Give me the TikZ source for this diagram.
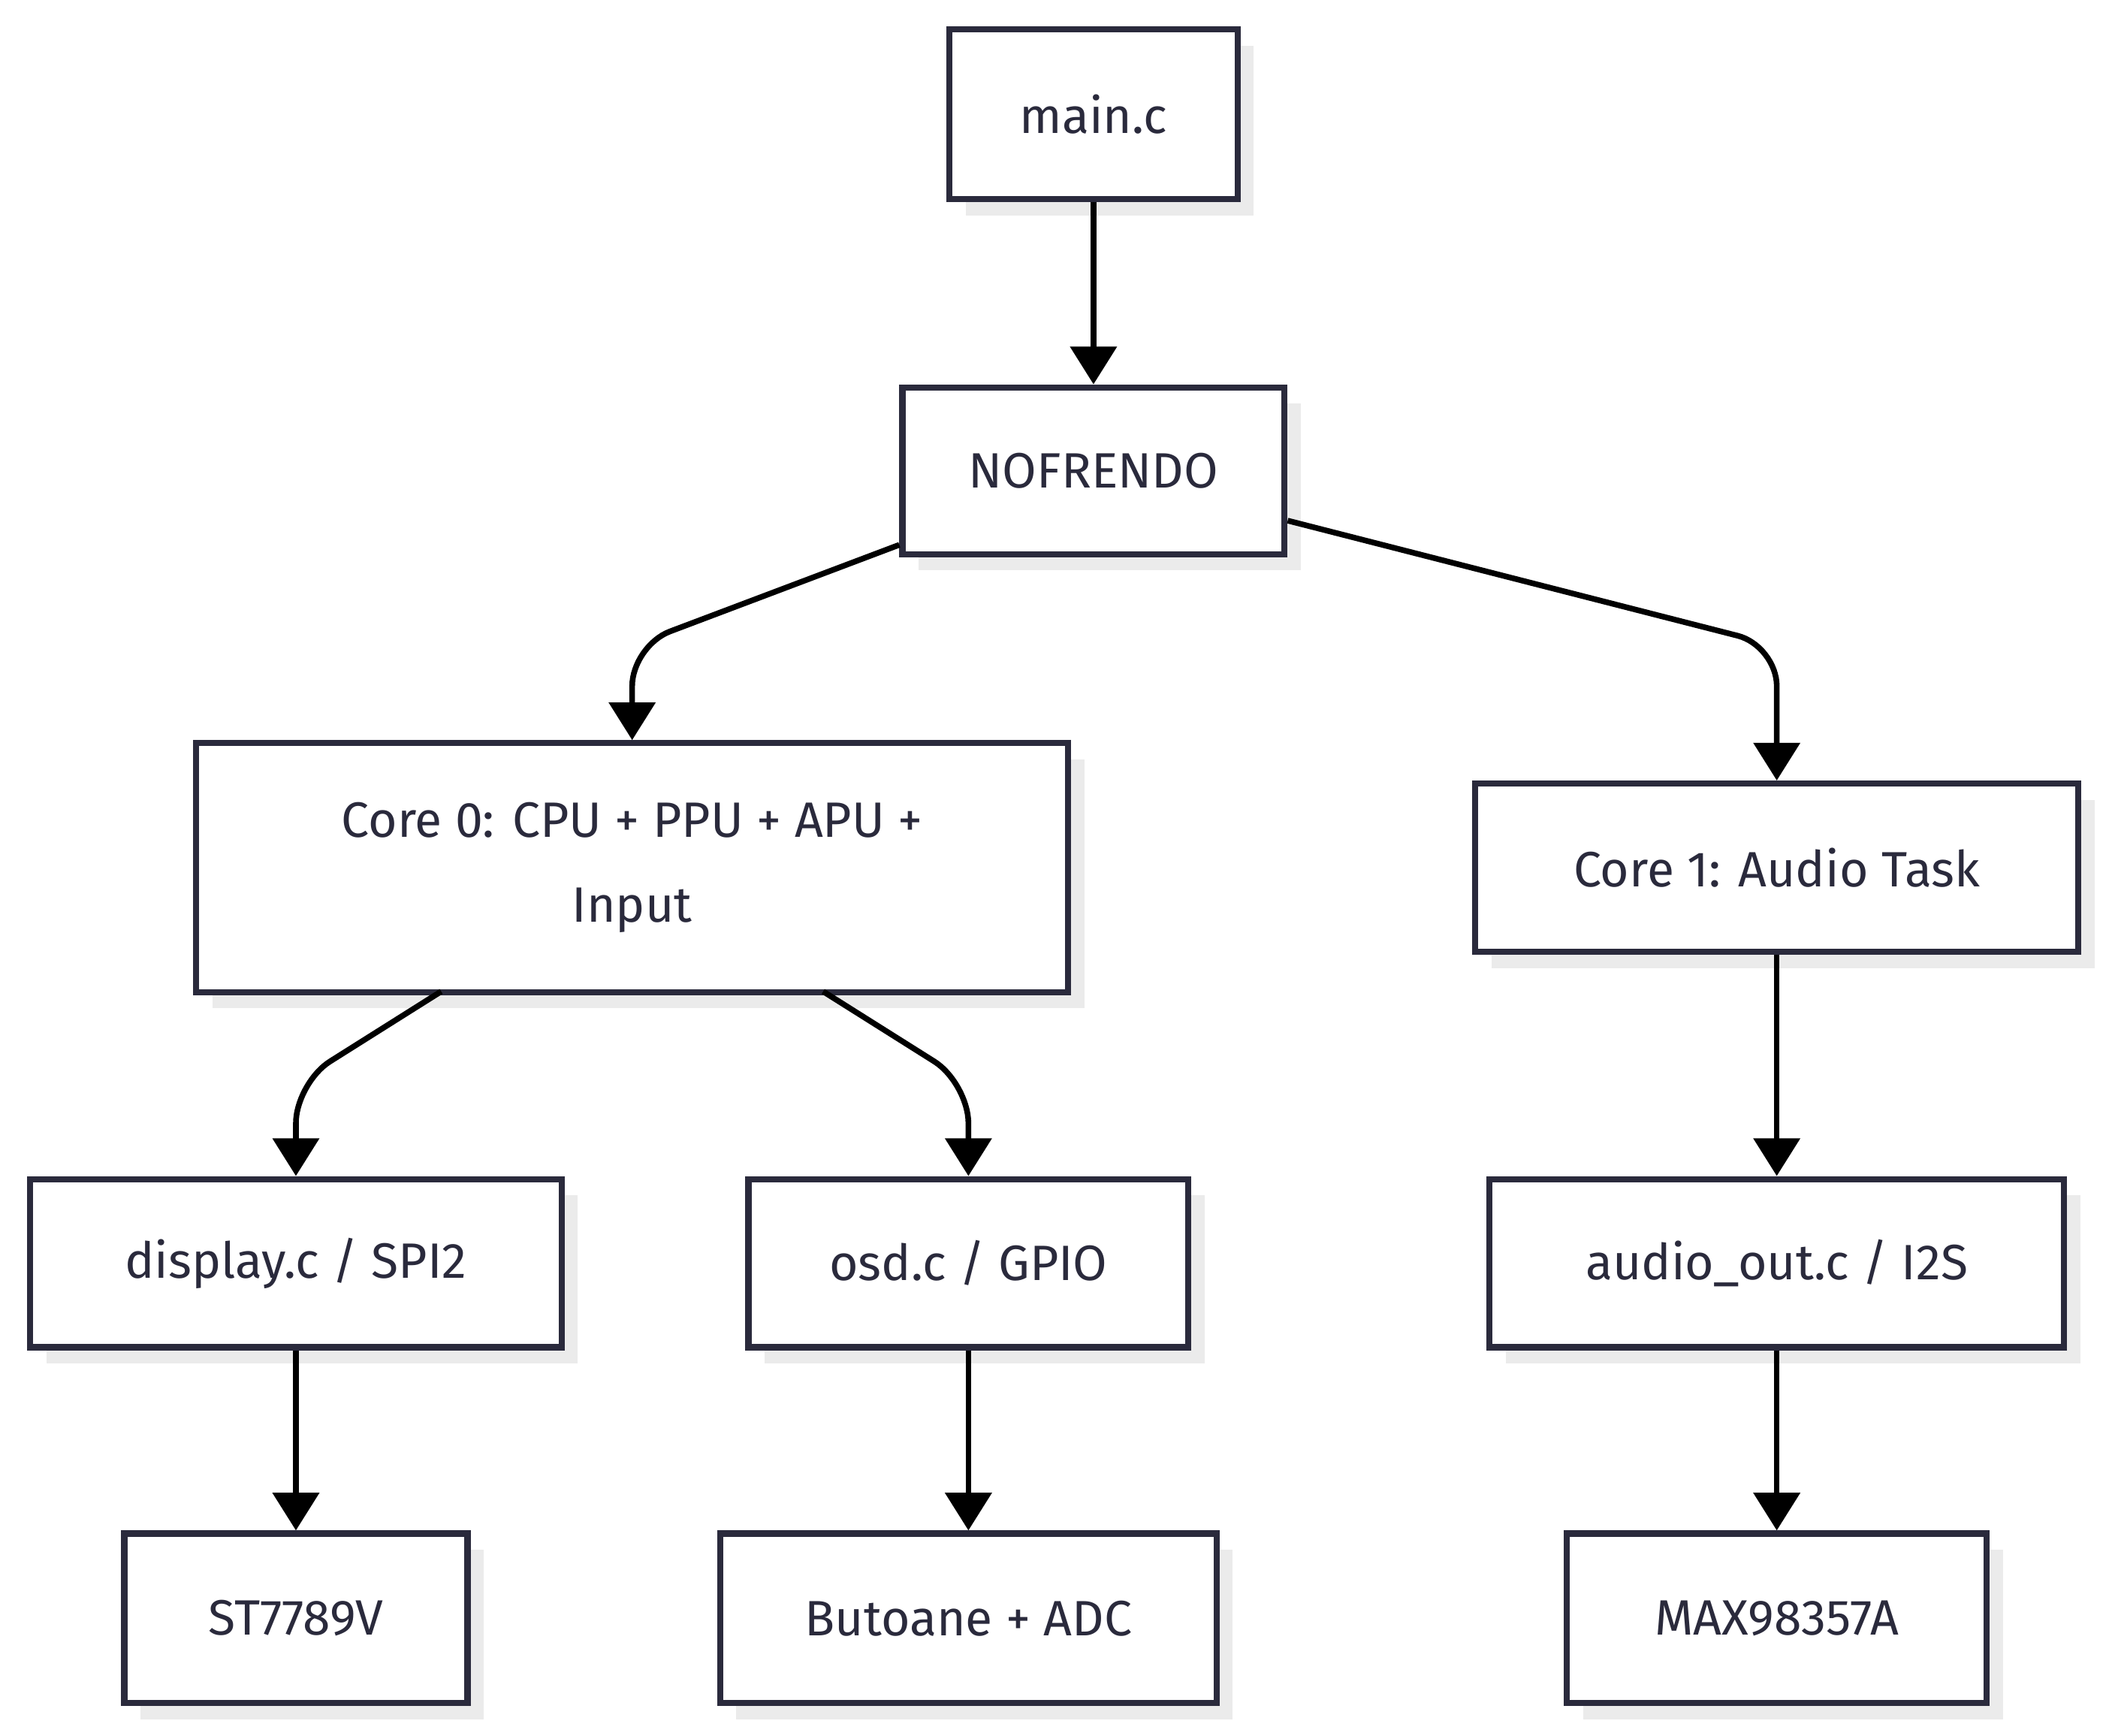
\documentclass[tikz,border=0pt]{standalone}
\usepackage{fontspec}
\setmainfont{Fira Sans}
\usetikzlibrary{arrows.meta,shadows}

\definecolor{boxline}{HTML}{2A2A3C}
\definecolor{boxtext}{HTML}{2A2A3C}
\definecolor{shadowgray}{HTML}{EBEBEB}
\tikzset{
  box/.style={draw=boxline, line width=1.3pt, fill=white, align=center,
    font=\fontsize{10.5}{18}\selectfont, text=boxtext,
    drop shadow={shadow xshift=0.12cm, shadow yshift=-0.12cm, fill=shadowgray, opacity=1}},
  link/.style={line width=1.2pt, -{Triangle[length=0.28cm,width=0.34cm]}, rounded corners=0.3cm}
}

\begin{document}
\begin{tikzpicture}[x=0.01cm, y=-0.01cm]
    \useasboundingbox (0,0) rectangle (1568,1290);

    % Noduri
    \node[box, minimum width=2.14cm, minimum height=1.26cm] (main) at (813,85) {main.c};
    \node[box, minimum width=2.84cm, minimum height=1.24cm] (nof) at (813,350) {NOFRENDO};
    \node[box, minimum width=6.48cm, minimum height=1.85cm] (core0) at (470,645) {Core 0: CPU + PPU + APU +\\Input};
    \node[box, minimum width=4.48cm, minimum height=1.25cm] (core1) at (1321,645) {Core 1: Audio Task};
    \node[box, minimum width=3.95cm, minimum height=1.25cm] (disp) at (220,939) {display.c / SPI2};
    \node[box, minimum width=3.27cm, minimum height=1.25cm] (osd) at (720,939) {osd.c / GPIO};
    \node[box, minimum width=4.27cm, minimum height=1.25cm] (aout) at (1321,939) {audio\_out.c / I2S};
    \node[box, minimum width=2.55cm, minimum height=1.26cm] (st) at (220,1203) {ST7789V};
    \node[box, minimum width=3.69cm, minimum height=1.26cm] (but) at (720,1203) {Butoane + ADC};
    \node[box, minimum width=3.12cm, minimum height=1.26cm] (max) at (1321,1203) {MAX98357A};

    % Legaturi
    \draw[link] (main) -- (nof);
    \draw[link] (nof.west |- 0,405) -- (470,480) -- (core0.north);
    \draw[link] (nof.east |- 0,387) -- (1321,480) -- (core1.north);
    \draw[link] (328,737) -- (220,805) -- (disp.north);
    \draw[link] (612,737) -- (720,805) -- (osd.north);
    \draw[link] (core1) -- (aout);
    \draw[link] (disp) -- (st);
    \draw[link] (osd) -- (but);
    \draw[link] (aout) -- (max);

\end{tikzpicture}
\end{document}
